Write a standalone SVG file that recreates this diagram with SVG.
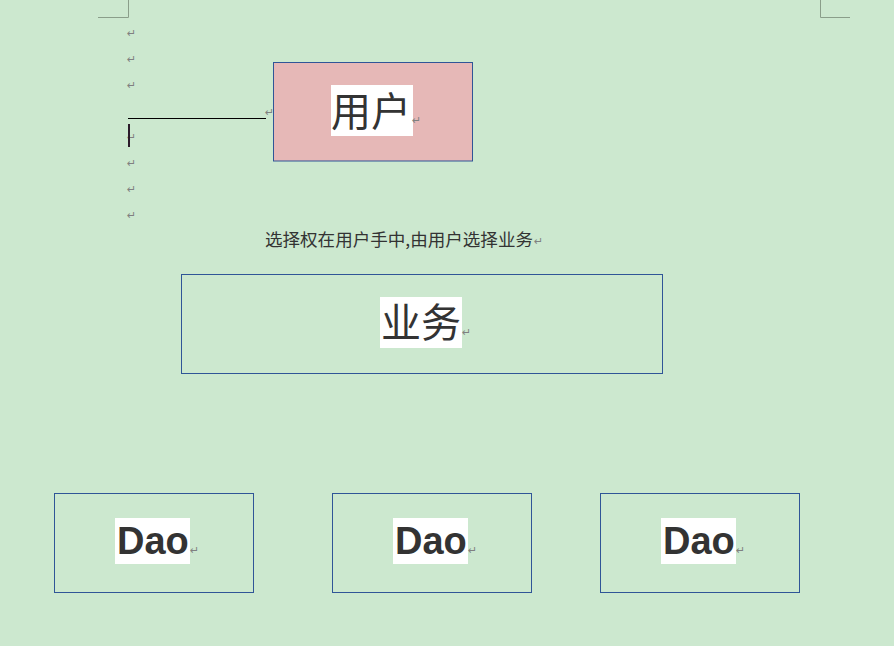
<svg xmlns="http://www.w3.org/2000/svg" width="894" height="646" viewBox="0 0 894 646">
<style>
.mark{font-family:"DejaVu Sans",sans-serif;font-size:11px;fill:#808080}
.box{fill:none;stroke:#2F5597;stroke-width:1}
.cjk{font-family:"Noto Sans CJK SC","Noto Sans",sans-serif;fill:#333333}
.dao{font-family:"Liberation Sans",Arial,sans-serif;font-weight:bold;font-size:38px;fill:#333333}
.crop{stroke:#8A9E8A;stroke-width:1;fill:none}
</style>
<rect width="894" height="646" fill="#CCE8CF"/>
<g id="page-marks">
<path class="crop" d="M98,17.5H128.5V0"/>
<path class="crop" d="M850,17.5H820.5V0"/>
<text class="mark" x="127" y="37">↵</text>
<text class="mark" x="127" y="63">↵</text>
<text class="mark" x="127" y="89">↵</text>
<text class="mark" x="265" y="116">↵</text>
<text class="mark" x="127" y="141">↵</text>
<text class="mark" x="127" y="167">↵</text>
<text class="mark" x="127" y="193">↵</text>
<text class="mark" x="127" y="219">↵</text>
<rect x="128" y="124" width="2" height="23" fill="#2B1B2B"/>
</g>
<g id="connectors">
<line x1="128" y1="118.5" x2="266" y2="118.5" stroke="#000" stroke-width="1"/>
</g>
<g id="user">
<rect x="273.5" y="62.5" width="199" height="98.5" fill="#E6B8B7" stroke="#2F5597"/>
<rect x="331" y="85" width="82" height="51" fill="#fff"/>
<text class="cjk" x="331" y="126" font-size="40">用户</text>
<text class="mark" x="412" y="124">↵</text>
</g>
<g id="caption">
<text class="cjk" x="265" y="246" font-size="17" fill="#222" textLength="268" lengthAdjust="spacingAndGlyphs">选择权在用户手中,由用户选择业务</text>
<text class="mark" x="534" y="245">↵</text>
</g>
<g id="business">
<rect class="box" x="181.5" y="274.5" width="481" height="99"/>
<rect x="380" y="297" width="82" height="51" fill="#fff"/>
<text class="cjk" x="381" y="337" font-size="40">业务</text>
<text class="mark" x="462" y="336">↵</text>
</g>
<g id="dao1">
<rect class="box" x="54.5" y="493.5" width="199" height="99"/>
<rect x="115" y="518" width="75" height="46" fill="#fff"/>
<text class="dao" x="117" y="554">Dao</text>
<text class="mark" x="190" y="554">↵</text>
</g>
<g id="dao2">
<rect class="box" x="332.5" y="493.5" width="199" height="99"/>
<rect x="393" y="518" width="75" height="46" fill="#fff"/>
<text class="dao" x="395" y="554">Dao</text>
<text class="mark" x="468" y="554">↵</text>
</g>
<g id="dao3">
<rect class="box" x="600.5" y="493.5" width="199" height="99"/>
<rect x="661" y="518" width="75" height="46" fill="#fff"/>
<text class="dao" x="663" y="554">Dao</text>
<text class="mark" x="736" y="554">↵</text>
</g>
</svg>
